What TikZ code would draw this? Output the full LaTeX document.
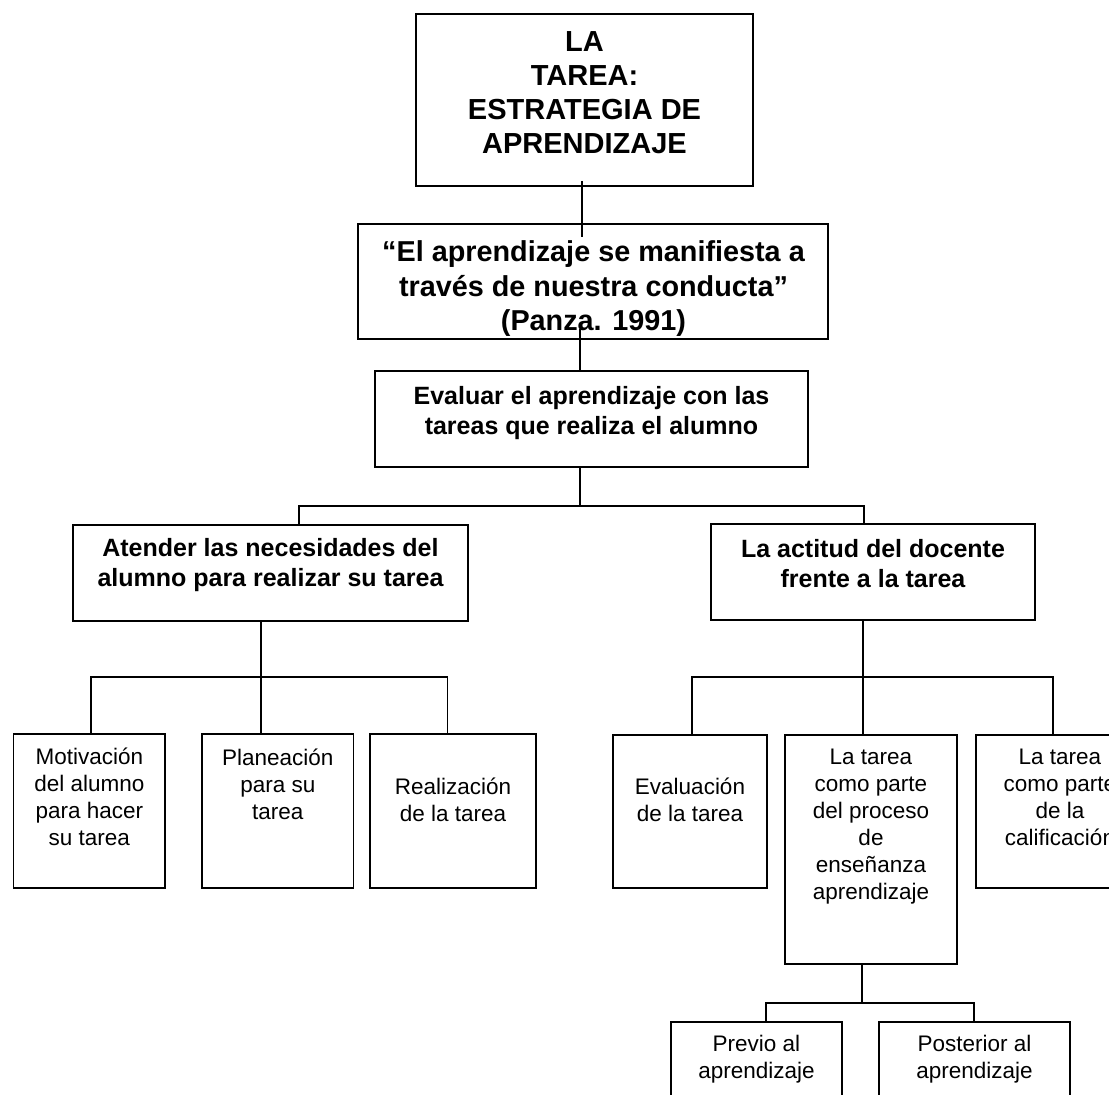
\documentclass[tikz,border=0pt]{standalone}
\usepackage{fontspec}
\setmainfont{Liberation Sans}
\begin{document}
\begin{tikzpicture}[x=1pt,y=-1pt,
  box/.style={draw, line width=1.6pt, inner sep=0pt, rectangle},
  conn/.style={line width=1.6pt},
  txt/.style={align=center, inner sep=0pt},
  fbig/.style={font=\bfseries\fontsize{29}{34}\selectfont},
  fquote/.style={font=\bfseries\fontsize{28.8}{34.5}\selectfont},
  fmid/.style={font=\bfseries\fontsize{25}{30}\selectfont},
  fsmall/.style={font=\fontsize{22.5}{27}\selectfont}]
\fill[white] (0,0) rectangle (1109,1095);
\useasboundingbox (0,0) rectangle (1109,1095);

% boxes
\node[box, minimum width=337pt, minimum height=172pt] (T) at (584.5,100) {};
\node[box, minimum width=470pt, minimum height=115pt] (Q) at (593,281.5) {};
\node[box, minimum width=433pt, minimum height=96pt] (E) at (591.5,419) {};
\node[box, minimum width=395pt, minimum height=96pt] (L) at (270.5,573) {};
\node[box, minimum width=324pt, minimum height=96pt] (R) at (873,572) {};
\node[box, minimum width=151.4pt, minimum height=154pt] (M1) at (89.3,811) {};
\node[box, minimum width=151.6pt, minimum height=154pt] (M2) at (277.8,811) {};
\node[box, minimum width=166pt, minimum height=154pt] (M3) at (453,811) {};
\node[box, minimum width=154pt, minimum height=153pt] (N1) at (690,811.5) {};
\node[box, minimum width=172pt, minimum height=229pt] (N2) at (871,849.5) {};
\node[box, minimum width=168pt, minimum height=153pt] (N3) at (1060,811.5) {};
\node[box, minimum width=171pt, minimum height=98pt] (P1) at (756.5,1071) {};
\node[box, minimum width=191pt, minimum height=98pt] (P2) at (974.5,1071) {};

% texts
\node[txt, fbig] (tT) at (584.5,93) {LA\\TAREA:\\ESTRATEGIA DE\\APRENDIZAJE};
\node[txt, fquote] (tQ) at (593.5,289) {“El aprendizaje se manifiesta a\\través de nuestra conducta”\\(Panza. 1991)};
\node[txt, fmid] (tE) at (591.5,413) {Evaluar el aprendizaje con las\\tareas que realiza el alumno};
\node[txt, fmid] (tL) at (270.5,565) {Atender las necesidades del\\alumno para realizar su tarea};
\node[txt, fmid] (tR) at (873,564) {La actitud del docente\\frente a la tarea};
\node[txt, fsmall] (tM1) at (89.3,797) {Motivación\\del alumno\\para hacer\\su tarea};
\node[txt, fsmall] (tM2) at (277.8,784) {Planeación\\para su\\tarea};
\node[txt, fsmall] (tM3) at (453,800) {Realización\\de la tarea};
\node[txt, fsmall] (tN1) at (690,800) {Evaluación\\de la tarea};
\node[txt, fsmall] (tN2) at (871,827) {La tarea\\como parte\\del proceso\\de\\enseñanza\\aprendizaje};
\node[txt, fsmall] (tN3) at (1060,797.5) {La tarea\\como parte\\de la\\calificación};
\node[txt, fsmall] (tP1) at (756.5,1059) {Previo al\\aprendizaje};
\node[txt, fsmall] (tP2) at (974.5,1059) {Posterior al\\aprendizaje};

% junctions
\coordinate (j1) at (580,506);
\coordinate (j2) at (261,677);
\coordinate (j3) at (863,677);
\coordinate (j4) at (862,1003);

% connectors
\draw[conn] ([xshift=-2.5pt,yshift=6pt]T.south) -- ([xshift=-11pt,yshift=-14pt]Q.north);
\draw[conn] ([xshift=-13pt,yshift=11pt]Q.south) -- ([xshift=-11.5pt]E.north);
\draw[conn] ([xshift=-11.5pt]E.south) -- (j1);
\draw[conn] ([xshift=28.5pt]L.north) |- (j1) -| ([xshift=-9pt]R.north);
\draw[conn] ([xshift=-9.5pt]L.south) -- ([xshift=-16.8pt]M2.north);
\draw[conn] ([xshift=1.7pt]M1.north) |- (j2) -| ([xshift=-5.5pt]M3.north);
\draw[conn] ([xshift=-10pt]R.south) -- ([xshift=-8pt]N2.north);
\draw[conn] ([xshift=2pt]N1.north) |- (j3) -| ([xshift=-7pt]N3.north);
\draw[conn] ([xshift=-9pt]N2.south) -- (j4);
\draw[conn] ([xshift=9.5pt]P1.north) |- (j4) -| ([xshift=-0.5pt]P2.north);
\end{tikzpicture}
\end{document}
